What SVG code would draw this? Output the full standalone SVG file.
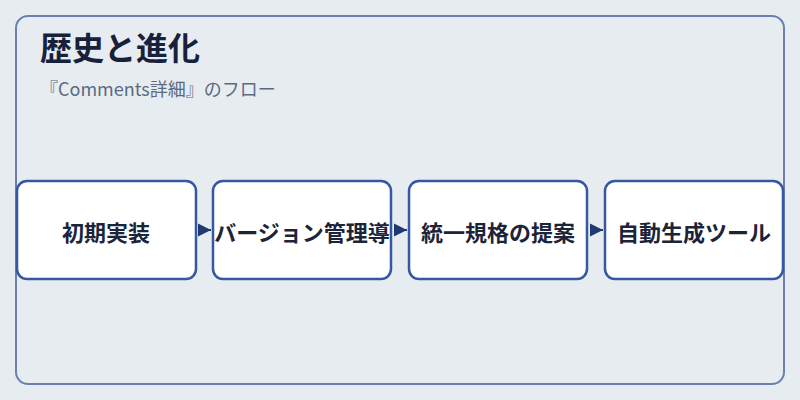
<svg xmlns="http://www.w3.org/2000/svg" width="800" height="400" viewBox="0 0 800 400">
<defs>
<style>
.bg{fill:#e7ecf1}
.frame{fill:#e7ecf1;stroke:#6a80b2;stroke-width:2}
.box{fill:#ffffff;stroke:#3458a2;stroke-width:2.5}
.lbl{font-family:"Noto Sans CJK JP","Noto Sans",sans-serif;font-weight:bold;font-size:22px;fill:#1b2438;text-anchor:middle;dominant-baseline:central}
.title{font-family:"Noto Sans CJK JP","Noto Sans",sans-serif;font-weight:bold;font-size:32px;fill:#17213a}
.sub{font-family:"Noto Sans CJK JP","Noto Sans",sans-serif;font-size:18px;fill:#5b6a80}
.conn{stroke:#1f3a72;stroke-width:2;fill:none}
</style>
<marker id="arr" viewBox="0 0 10 10" refX="10" refY="5" markerUnits="userSpaceOnUse" markerWidth="13" markerHeight="14" orient="auto">
<path d="M0,0 L10,5 L0,10 z" fill="#1f3a72"/>
</marker>
</defs>
<rect class="bg" x="0" y="0" width="800" height="400"/>
<rect class="frame" x="16" y="16" width="768" height="368" rx="12"/>
<text class="title" x="40" y="60">歴史と進化</text>
<text class="sub" x="40" y="96">『Comments詳細』のフロー</text>
<g id="connectors">
<line class="conn" x1="198" y1="230" x2="211" y2="230" marker-end="url(#arr)"/>
<line class="conn" x1="394" y1="230" x2="407" y2="230" marker-end="url(#arr)"/>
<line class="conn" x1="590" y1="230" x2="603" y2="230" marker-end="url(#arr)"/>
</g>
<g id="node1">
<rect class="box" x="17" y="181" width="179" height="98" rx="10"/>
<text class="lbl" x="106" y="231">初期実装</text>
</g>
<g id="node2">
<rect class="box" x="213" y="181" width="178" height="98" rx="10"/>
<text class="lbl" x="302" y="231">バージョン管理導</text>
</g>
<g id="node3">
<rect class="box" x="409" y="181" width="178" height="98" rx="10"/>
<text class="lbl" x="498" y="231">統一規格の提案</text>
</g>
<g id="node4">
<rect class="box" x="605" y="181" width="178" height="98" rx="10"/>
<text class="lbl" x="694" y="231">自動生成ツール</text>
</g>
</svg>
